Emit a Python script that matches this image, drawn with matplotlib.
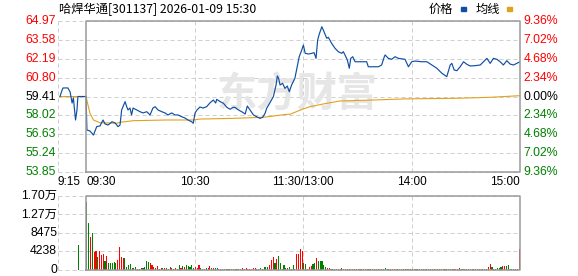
import matplotlib.pyplot as plt
from matplotlib.patches import Rectangle

plt.rcParams['font.family'] = ['Liberation Sans', 'Noto Sans CJK SC', 'DejaVu Sans']

title = "哈焊华通[301137] 2026-01-09 15:30"
prev_close = 59.41
price_ticks = [64.97, 63.58, 62.19, 60.80, 59.41, 58.02, 56.63, 55.24, 53.85]
pct_labels = ["9.36%", "7.02%", "4.68%", "2.34%", "0.00%", "2.34%", "4.68%", "7.02%", "9.36%"]
vol_ticks = [0, 4238, 8475, 12713, 16950]
vol_labels = ["0", "4238", "8475", "1.27万", "1.70万"]
time_pos = [-15.5, 0, 60, 120, 180, 240]
time_labels = ["9:15", "09:30", "10:30", "11:30/13:00", "14:00", "15:00"]

# call auction 9:15-9:25 (minutes before 9:30)
pre_t = [-14.4, -13.2, -12.7, -10.0, -8.8, -7.7, -7.0, -5.8, -5.0, -4.5, 0]
pre_p = [59.41, 59.90, 60.04, 60.04, 59.74, 58.93, 59.30, 57.68, 58.42, 59.41, 59.41]
pre_vol_t = -4.2
pre_vol = 5725

# trading minutes (0 = 9:30, 120 = 11:30/13:00, 240 = 15:00)
t = [0, 0.5, 2.2, 4.1, 5.9, 7.7, 9.4, 10.5, 12.2, 14.4, 16.1, 17.7, 18.8, 19.7, 21.6,
     22.5, 23.2, 24.3, 25.2, 26.0, 28.0, 29.9, 31.5, 33.6, 35.4, 37.0, 38.2, 39.8,
     41.9, 43.7, 45.3, 47.4, 49.2, 50.9, 52.9, 54.7, 56.4, 58.4, 59.3, 60.3, 61.4,
     63.0, 64.7, 66.7, 68.6, 70.4, 71.7, 72.3, 74.2, 76.0, 77.9, 79.7, 81.3, 82.4,
     84.3, 86.1, 88.0, 89.2, 90.7, 92.6, 94.4, 96.2, 97.7, 99.0, 99.9, 101.7, 103.6,
     105.1, 105.8, 106.5, 107.3, 108.7, 110.0, 111.3, 112.4, 113.7, 115.5, 116.8,
     117.9, 119.3, 120.2, 121.2, 123.0, 124.9, 126.1, 127.2, 128.1, 129.0, 130.4,
     131.2, 133.1, 134.0, 135.8, 137.7, 139.5, 141.4, 142.3, 143.2, 144.5, 145.6,
     146.4, 147.5, 148.8, 151.5, 155.2, 156.1, 158.0, 161.7, 163.5, 164.9, 165.4,
     167.2, 169.0, 170.9, 172.7, 176.4, 178.3, 180.1, 182.0, 185.7, 188.5, 191.2,
     194.0, 196.8, 199.5, 201.4, 202.3, 203.6, 205.1, 206.9, 208.8, 210.6, 212.4,
     215.2, 218.0, 219.8, 221.7, 223.5, 225.3, 227.2, 229.0, 230.8, 232.7, 234.5,
     236.4, 238.2, 240]
price = [59.41, 56.94, 56.87, 56.57, 57.19, 57.24, 57.68, 57.39, 57.31, 57.55, 57.46,
         57.19, 57.31, 58.42, 59.03, 58.66, 58.42, 58.56, 58.05, 58.56, 58.42, 58.29,
         58.20, 58.29, 58.05, 58.56, 58.66, 58.42, 58.29, 58.20, 58.05, 58.20, 58.05,
         58.05, 57.92, 57.83, 57.68, 57.55, 57.44, 58.20, 58.42, 58.64, 58.56, 58.66,
         58.95, 59.15, 58.93, 59.20, 59.03, 58.91, 58.61, 58.47, 58.61, 58.61, 58.42,
         58.29, 58.12, 58.71, 58.42, 58.05, 57.92, 57.80, 57.88, 58.17, 58.54, 58.95,
         59.40, 60.26, 60.92, 60.75, 60.26, 60.38, 60.01, 60.18, 59.76, 60.26, 60.75,
         61.60, 62.34, 62.83, 63.20, 62.59, 62.54, 62.59, 62.64, 62.22, 63.57, 64.01,
         64.55, 64.31, 63.70, 63.77, 63.33, 62.96, 62.71, 62.59, 62.71, 62.47, 62.10,
         61.49, 62.22, 62.34, 61.97, 61.97, 61.97, 61.60, 61.60, 61.60, 61.73, 62.32,
         62.47, 62.22, 62.15, 62.34, 62.22, 62.15, 61.60, 61.97, 62.02, 61.97, 61.97,
         61.73, 61.49, 61.12, 60.87, 61.73, 61.85, 61.36, 61.31, 61.60, 61.97, 61.78,
         61.66, 61.68, 61.73, 61.97, 62.22, 61.85, 62.22, 62.15, 61.97, 61.73, 62.05,
         61.80, 61.73, 61.85, 61.97]

avg_t = [-14.4, 0, 1.3, 2.2, 4.1, 7.7, 17.0, 18.8, 26.2, 44.6, 59.3, 63.0, 81.4, 98.1,
         103.6, 111.0, 112.8, 120.0, 123.9, 131.2, 140.4, 158.8, 175.4, 204.9, 223.4, 240]
avg_p = [59.41, 59.40, 58.66, 58.17, 57.68, 57.48, 57.44, 57.51, 57.63, 57.68, 57.68,
         57.75, 57.80, 57.88, 57.97, 58.10, 58.10, 58.49, 58.66, 58.86, 59.08, 59.15,
         59.23, 59.28, 59.35, 59.47]

# one bar per trading minute
volume = [15640, 10830, 7630, 8400, 4200, 4400, 3000, 4400, 3500, 3660, 2130, 3200, 1530, 1680, 1680, 1750, 1530, 2290, 5190, 3050,
          2670, 2820, 760, 1150, 1370, 380, 400, 690, 300, 300, 380, 380, 600, 2060, 1910, 1530, 1150, 760, 380, 920,
          300, 380, 380, 380, 380, 300, 690, 530, 300, 450, 300, 1150, 380, 920, 760, 1070, 1000, 760, 1150, 530,
          600, 530, 1150, 450, 300, 300, 380, 380, 920, 380, 380, 450, 530, 300, 300, 300, 300, 300, 300, 300,
          300, 300, 300, 300, 300, 300, 530, 300, 380, 300, 300, 300, 380, 530, 300, 300, 530, 300, 600, 690,
          690, 1150, 2290, 3050, 1680, 2520, 3200, 1530, 300, 1150, 380, 380, 760, 300, 1150, 300, 3660, 3660, 4730, 4400,
          1680, 1370, 300, 690, 920, 1300, 1530, 2670, 2060, 2060, 2060, 1150, 760, 460, 460, 230, 230, 300, 230, 230,
          230, 460, 230, 230, 300, 230, 230, 230, 300, 230, 230, 300, 230, 230, 230, 300, 230, 230, 230, 230,
          230, 230, 300, 230, 230, 530, 230, 230, 300, 230, 230, 230, 300, 230, 230, 230, 230, 300, 230, 230,
          230, 230, 300, 230, 230, 230, 230, 300, 230, 230, 230, 230, 230, 300, 230, 230, 230, 230, 230, 300,
          230, 230, 230, 300, 230, 230, 460, 300, 230, 230, 230, 300, 230, 230, 230, 230, 300, 230, 230, 230,
          300, 230, 690, 1370, 760, 300, 230, 530, 530, 600, 920, 1000, 1000, 1230, 230, 230, 230, 230, 230, 4810]
# r = up minute, g = down minute
vol_dir = ("ggrgrrgrrrgrgggggrrr" "rggggrggrgrggggrrrgr" "grgrgggrgrggrgrggggg"
           "rrrggggrrgrggrrggrgr" "grrgggrgrrrrrrgrgrgg" "grrrgrggrggrgrgrrrrr"
           "ggrrrggrgggggrrgggrg" "grggrgrrggrrgrrggrgr" "rrgrgggrrgrrgggrrggr"
           "rrggrgggggrrrgrgrrgg" "grgrgrrgggrrrggrrgrg" "grrrggggggrrgggrrggr")

BLUE = '#0f4fa3'
GOLD = '#e0a21c'
RED = '#ff0000'
GREEN = '#008000'
GRID = '#cfcfcf'
FRAME = '#9a9a9a'

fig = plt.figure(figsize=(5.78, 2.76), dpi=100)
W, H = 578, 276


def px_axes(x0, y0, x1, y1):
    return fig.add_axes([x0 / W, 1 - y1 / H, (x1 - x0) / W, (y1 - y0) / H])


def frame(ax, ymin, ymax, yticks):
    for y in yticks:
        ax.plot([-15.5, 240], [y, y], color=GRID, lw=0.72, ls=(0, (4, 3)), zorder=0, clip_on=False)
    for x in [-15.5, 60, 120, 180]:
        ax.plot([x, x], [ymin, ymax], color=GRID, lw=0.72, ls=(0, (4, 3)), zorder=0, clip_on=False)
    ax.plot([0, 240, 240, 0, 0], [ymin, ymin, ymax, ymax, ymin], color=FRAME, lw=1.1,
            zorder=5, clip_on=False)
    ax.set_xlim(-15.5, 240)
    ax.set_ylim(ymin, ymax)
    ax.axis('off')


ax = px_axes(58, 21, 520, 172)
frame(ax, 53.85, 64.97, price_ticks)
ax.text(117, 59.55, "东方财富", fontsize=29, fontweight='bold', color='#e6e6e6',
        family=['Noto Sans CJK SC'], ha='center', va='center', zorder=1)
ax.plot(pre_t, pre_p, color=BLUE, lw=0.85, zorder=3)
ax.plot(t, price, color=BLUE, lw=0.85, zorder=3)
ax.plot(avg_t, avg_p, color=GOLD, lw=0.8, zorder=2)

for y, pl in zip(price_ticks, pct_labels):
    col = RED if y > prev_close + 0.001 else ('black' if abs(y - prev_close) < 0.001 else GREEN)
    ax.text(-16.5, y, f"{y:.2f}", color=col, fontsize=8.8, ha='right', va='center')
    ax.text(241.8, y, pl, color=col, fontsize=8.8, ha='left', va='center')

for x, lab in zip(time_pos, time_labels):
    ha = 'center'
    if lab in ("9:15", "09:30"):
        ha = 'left'
    if lab == "15:00":
        ha = 'right'
    ax.text(x + (0.5 if lab == "09:30" else 0), 53.85 - 0.72, lab, fontsize=8.5,
            ha=ha, va='center')

axv = px_axes(58, 196, 520, 270)
frame(axv, 0, 16950, vol_ticks)
colors = [RED if d == 'r' else GREEN for d in vol_dir]
axv.bar([i + 0.5 for i in range(len(volume))], volume, width=0.6, color=colors, zorder=3)
axv.bar([pre_vol_t], [pre_vol], width=0.6, color=GREEN, zorder=3)
for y, lab in zip(vol_ticks, vol_labels):
    axv.text(-16, y, lab, fontsize=8.8, ha='right', va='center')

fig.text(59 / W, 1 - 9 / H, title, fontsize=8.8, ha='left', va='center',
         family=['Noto Sans CJK SC', 'DejaVu Sans'])
fig.text(453 / W, 1 - 9 / H, "价格", fontsize=8.8, ha='right', va='center',
         family=['Noto Sans CJK SC'])
fig.text(500 / W, 1 - 9 / H, "均线", fontsize=8.8, ha='right', va='center',
         family=['Noto Sans CJK SC'])
fig.patches.append(Rectangle((461 / W, 1 - 11 / H), 5 / W, 4 / H, color=BLUE,
                             transform=fig.transFigure, figure=fig))
fig.patches.append(Rectangle((507 / W, 1 - 11 / H), 5 / W, 4 / H, color=GOLD,
                             transform=fig.transFigure, figure=fig))

fig.savefig('out.png', dpi=100)
